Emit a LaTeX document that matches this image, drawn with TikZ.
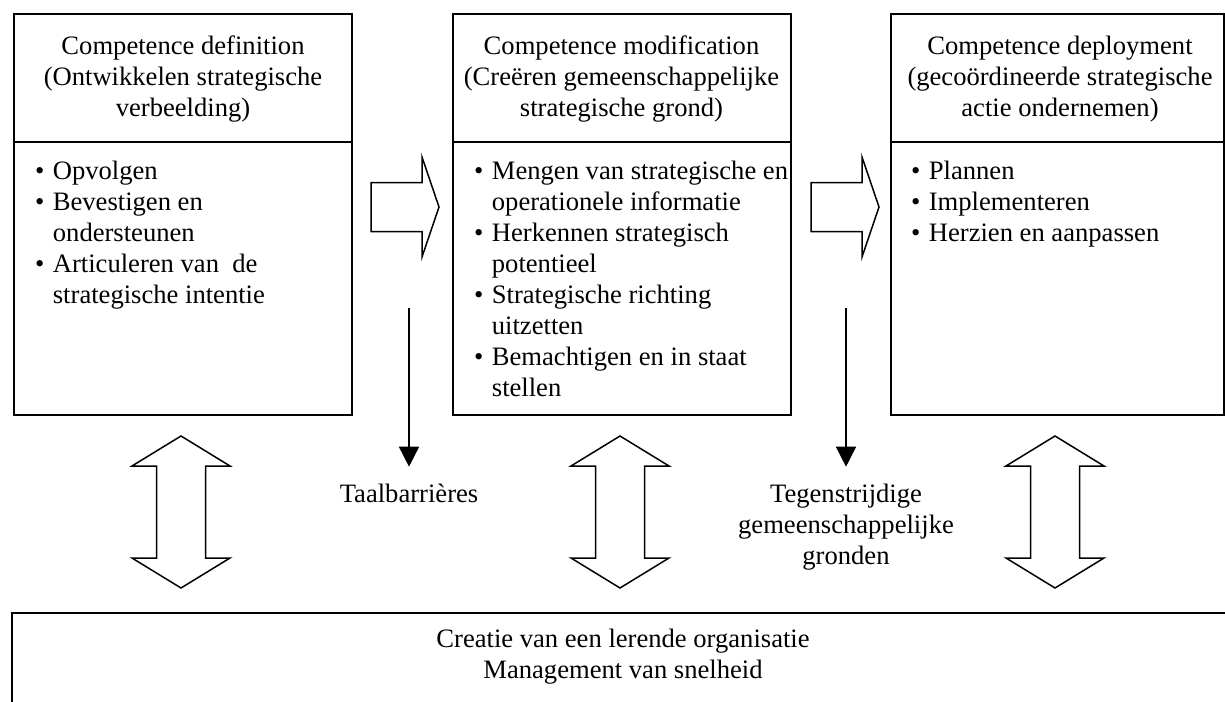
\documentclass[tikz,border=0pt]{standalone}
\usepackage{fontspec}
\setmainfont{Liberation Serif}
\usetikzlibrary{arrows.meta}

% bullet hung to the left of the item text
\newcommand\itm{\llap{\textbullet\hspace{4.2pt}}}

\tikzset{
  txt/.style={font=\fontsize{13.3pt}{15.5pt}\selectfont, inner sep=0pt},
  stage/.style={draw, line width=1pt, minimum width=169pt, minimum height=200.5pt, inner sep=0pt},
  rule/.style={line width=1pt},
  flow/.style={draw, line width=0.75pt, fill=white, line join=miter},
  barrier/.style={line width=0.75pt, -{Triangle[length=10pt,width=10pt]}, shorten >=6.6pt},
  % horizontal block arrow (origin = centre)
  rblock/.pic={\path[flow] (-34,-24.5) -- (17,-24.5) -- (17,-50) -- (34,0) -- (17,50) -- (17,24.5) -- (-34,24.5) -- cycle;},
  % vertical two-headed block arrow (origin = centre)
  vblock/.pic={\path[flow] (0,-76) -- (49,-46) -- (24.5,-46) -- (24.5,46) -- (49,46) -- (0,76) -- (-49,46) -- (-24.5,46) -- (-24.5,-46) -- (-49,-46) -- cycle;}
}

\begin{document}
\begin{tikzpicture}[x=0.5pt, y=-0.5pt]
\useasboundingbox (0,0) rectangle (1225,701);
\clip (0,0) rectangle (1225,701);

% three competence stages
\node[stage] (b1) at (183,214.5) {};
\node[stage] (b2) at (621.5,214.5) {};
\node[stage, minimum width=166.5pt] (b3) at (1057.5,214.5) {};

\coordinate (dv) at (0,142);
\foreach \b in {b1,b2,b3}
  \draw[rule] (\b.west |- dv) -- (\b.east |- dv);

% stage titles
\node[txt, anchor=base] (t1) at (183,55) {\begin{tabular}[t]{@{}c@{}}Competence definition\\(Ontwikkelen strategische\\verbeelding)\end{tabular}};
\node[txt, anchor=base] (t2) at (621.5,55) {\begin{tabular}[t]{@{}c@{}}Competence modification\\(Creëren gemeenschappelijke\\strategische grond)\end{tabular}};
\node[txt, anchor=base] (t3) at (1060,55) {\begin{tabular}[t]{@{}c@{}}Competence deployment\\(gecoördineerde strategische\\actie ondernemen)\end{tabular}};

% stage activities
\node[txt, anchor=base west] (l1) at (52.5,179) {\begin{tabular}[t]{@{}l@{}}\itm Opvolgen\\\itm Bevestigen en\\ondersteunen\\\itm Articuleren van\ \ de\\strategische intentie\end{tabular}};
\node[txt, anchor=base west] (l2) at (491.5,179) {\begin{tabular}[t]{@{}l@{}}\itm Mengen van strategische en\\operationele informatie\\\itm Herkennen strategisch\\potentieel\\\itm Strategische richting\\uitzetten\\\itm Bemachtigen en in staat\\stellen\end{tabular}};
\node[txt, anchor=base west] (l3) at (928.5,179) {\begin{tabular}[t]{@{}l@{}}\itm Plannen\\\itm Implementeren\\\itm Herzien en aanpassen\end{tabular}};

% flow between stages
\pic at (405,207) {rblock};
\pic at (845,207) {rblock};

% barriers
\node[txt, anchor=base] (bar1) at (409,502) {\begin{tabular}[t]{@{}c@{}}Taalbarrières\end{tabular}};
\node[txt, anchor=base] (bar2) at (846,502) {\begin{tabular}[t]{@{}c@{}}Tegenstrijdige\\gemeenschappelijke\\gronden\end{tabular}};
\coordinate (s1) at (409,308);
\coordinate (s2) at (846,308);
\draw[barrier] (s1) -- (bar1.north);
\draw[barrier] (s2) -- (bar2.north);

% exchange with the learning organisation
\pic at (181,512) {vblock};
\pic at (620,512) {vblock};
\pic at (1055,512) {vblock};

% learning organisation
\node[draw, line width=1pt, anchor=north west, minimum width=620pt, minimum height=60pt, inner sep=0pt] (org) at (11,612) {};
\node[txt, anchor=base] (orgtxt) at (623,647) {\begin{tabular}[t]{@{}c@{}}Creatie van een lerende organisatie\\Management van snelheid\end{tabular}};
\end{tikzpicture}
\end{document}
